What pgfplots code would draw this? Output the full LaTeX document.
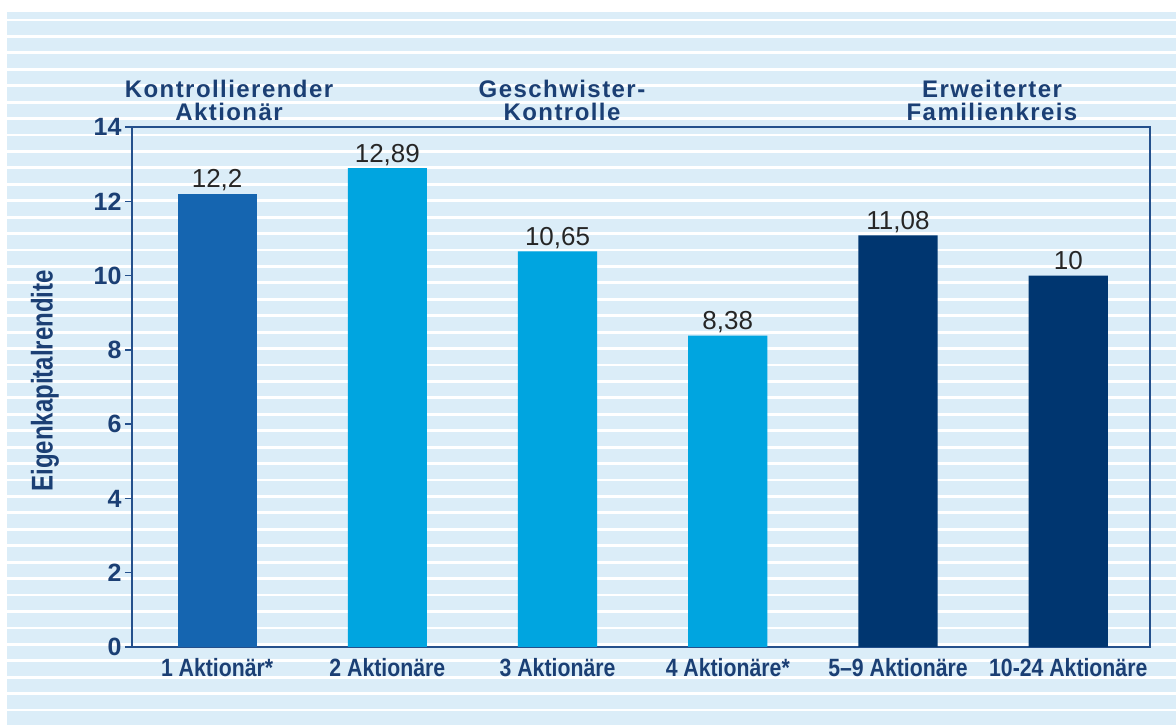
\documentclass[border=0pt]{standalone}
\usepackage{pgfplots}
\pgfplotsset{compat=1.18}
\usepackage{fontspec}
\setmainfont{Liberation Sans}
\newfontfamily\condfont{Liberation Sans}[FakeStretch=0.85]
\newfontfamily\ylabfont{Liberation Sans}[FakeStretch=0.8]
\newfontfamily\titlefont{Liberation Sans}[LetterSpace=6]

\definecolor{bgblue}{HTML}{DBEDF8}
\definecolor{navytext}{HTML}{1B3F74}
\definecolor{framecol}{HTML}{24508C}
\definecolor{barA}{HTML}{1565B0}
\definecolor{barB}{HTML}{00A5E0}
\definecolor{barC}{HTML}{003670}
\definecolor{valtext}{HTML}{262626}

\begin{document}
\begin{tikzpicture}[x=1pt,y=1pt]
\useasboundingbox (0,0) rectangle (1176,727);
% striped page background
\fill[white] (0,0) rectangle (1176,727);
\fill[bgblue] (7,0) rectangle (1176,715);
\foreach \i in {0,...,43} {
  \fill[white] (7,{707-16.43*\i-1.4}) rectangle (1176,{707-16.43*\i+1.4});
}

\begin{axis}[
  at={(132pt,80pt)}, anchor=south west,
  scale only axis, width=1018pt, height=520pt,
  xmin=-0.5, xmax=5.48, ymin=0, ymax=14,
  axis line style={framecol, line width=1.6pt},
  ytick={0,2,...,14}, xtick={0,...,5},
  xticklabels={1 Aktionär*, 2 Aktionäre, 3 Aktionäre, 4 Aktionäre*, 5–9 Aktionäre, 10-24 Aktionäre},
  ytick pos=left, xtick pos=bottom,
  tick align=outside, major tick length=7pt,
  ytick style={framecol, line width=1.4pt},
  xtick style={draw=none},
  /pgf/number format/assume math mode=true,
  yticklabel style={font=\bfseries\fontsize{25}{25}\selectfont, text=navytext},
  xticklabel style={font=\condfont\bfseries\fontsize{25}{25}\selectfont, text=navytext, inner sep=0pt, anchor=north, yshift=-4pt},
  ylabel={Eigenkapitalrendite},
  ylabel style={font=\ylabfont\bfseries\fontsize{30}{30}\selectfont, text=navytext,
    at={(axis description cs:-0.0855,0.512)}, anchor=center},
  nodes near coords,
  nodes near coords style={font=\fontsize{26}{26}\selectfont, text=valtext,
    anchor=south, inner sep=0pt, text depth=0pt, yshift=6pt,
    /pgf/number format/use comma, /pgf/number format/1000 sep={}},
  ybar, bar width=0.465,
]
\addplot[fill=barA, draw=none, bar shift=0pt] coordinates {(0,12.2)};
\addplot[fill=barB, draw=none, bar shift=0pt] coordinates {(1,12.89) (2,10.65) (3,8.38)};
\addplot[fill=barC, draw=none, bar shift=0pt] coordinates {(4,11.08) (5,10)};
\end{axis}

% group headings
\begin{scope}[every node/.style={font=\titlefont\bfseries\fontsize{24}{23}\selectfont,
    text=navytext, align=center, anchor=north, inner sep=0pt}]
\node at (229,647) {Kontrollierender\\Aktionär};
\node at (562,647) {Geschwister-\\Kontrolle};
\node at (992,647) {Erweiterter\\Familienkreis};
\end{scope}
\end{tikzpicture}
\end{document}
